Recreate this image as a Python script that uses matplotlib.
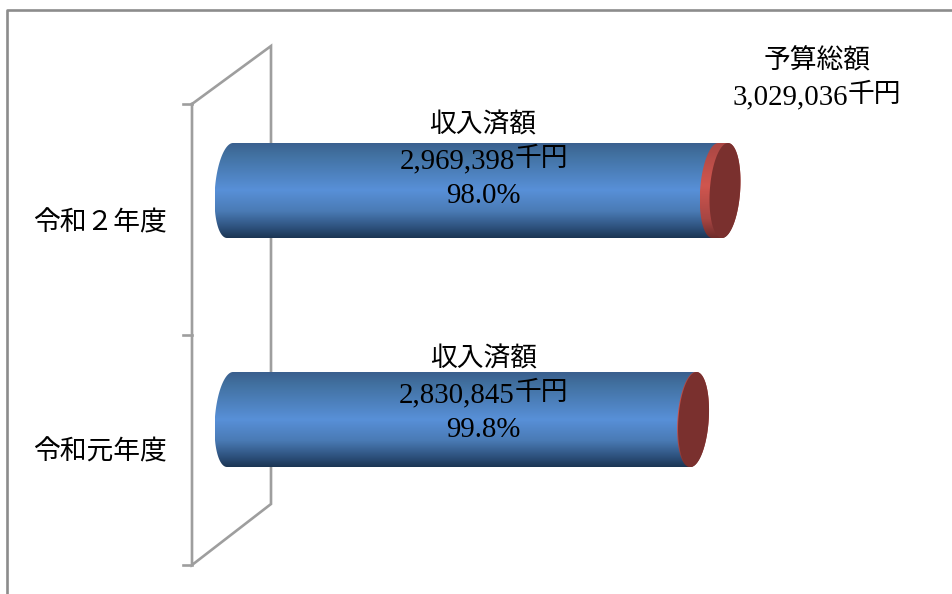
import numpy as np
import matplotlib
matplotlib.use("Agg")
import matplotlib.pyplot as plt
from matplotlib.colors import LinearSegmentedColormap
from matplotlib.patches import Polygon

plt.rcParams['font.family'] = ['Liberation Serif', 'Noto Sans CJK JP', 'DejaVu Sans']

categories = ['令和元年度', '令和２年度']
received = [2830845, 2969398]
budget = [2836518, 3029036]
percent = ['99.8%', '98.0%']
label_name = '収入済額'
unit = '千円'
total_title = '予算総額'
total_value = '3,029,036'

W, H = 953, 594
fig = plt.figure(figsize=(W / 100, H / 100), dpi=100)
ax = fig.add_axes([0, 0, 1, 1])

X0 = 230.0
K = 495.0 / 3029036
Y0, DY = 419.5, 229.0

x_of = lambda px: (np.asarray(px, float) - X0) / K
y_of = lambda py: (Y0 - np.asarray(py, float)) / DY
xlim = (float(x_of(0)), float(x_of(W)))
ylim = (float(y_of(H)), float(y_of(0)))

blue = LinearSegmentedColormap.from_list('b', [(0, '#3A5F8E'), (0.12, '#41709F'), (0.5, '#5890D8'),
                                               (0.72, '#4A7BB5'), (0.9, '#2C4F7A'), (1, '#1B3553')])
red = LinearSegmentedColormap.from_list('r', [(0, '#A84643'), (0.45, '#D0564F'), (0.8, '#A84643'), (1, '#6E2C2A')])
FACE = '#7A302E'
LINE = '#9E9E9E'

A, S, B = 15.2 / K, 3.0 / K, 47.5 / DY
t = np.linspace(0, 2 * np.pi, 181)


def end_cap(xc, yc, tt):
    return np.column_stack([xc + A * np.cos(tt) + S * np.sin(tt), yc + B * np.sin(tt)])


def gradient_patch(poly, cmap, yc, z):
    patch = Polygon(poly, closed=True, transform=ax.transData, fc='none', ec='none')
    ax.add_patch(patch)
    grad = np.linspace(0, 1, 256).reshape(-1, 1)
    x1, x2 = poly[:, 0].min(), poly[:, 0].max()
    im = ax.imshow(grad, cmap=cmap, aspect='auto', extent=(x1, x2, yc - B, yc + B),
                   origin='upper', zorder=z, interpolation='bilinear')
    im.set_clip_path(patch)


# wall and frame
wx = x_of([192, 271, 271, 192, 192])
wy = y_of([104, 46, 504, 565, 104])
ax.plot(wx, wy, color=LINE, lw=1.9, solid_joinstyle='miter', zorder=1)
for py in (104, 335, 565):
    ax.plot(x_of([183, 192]), y_of([py, py]), color=LINE, lw=1.9, zorder=1)
ax.plot(x_of([7, 7, W]), y_of([H, 10, 10]), color='#8C8C8C', lw=1.9, zorder=1)

# cylinders
for i, (rec, bud) in enumerate(zip(received, budget)):
    left = end_cap(0.0, i, np.linspace(np.pi / 2, 3 * np.pi / 2, 91))
    right = end_cap(rec, i, np.linspace(3 * np.pi / 2, 5 * np.pi / 2, 91))
    gradient_patch(np.vstack([left, right]), blue, i, 2)
    rim_l = end_cap(rec, i, np.linspace(np.pi / 2, 3 * np.pi / 2, 91))
    rim_r = end_cap(bud, i, np.linspace(3 * np.pi / 2, 5 * np.pi / 2, 91))
    gradient_patch(np.vstack([rim_l, rim_r]), red, i, 3)
    ax.add_patch(Polygon(end_cap(bud, i, t), closed=True, fc=FACE, ec='none', zorder=4))

# texts
FS_K = 19.3
FS_N = 20.8


def put(px, py, s):
    ax.text(float(x_of(px)), float(y_of(py)), s, ha='center', va='center',
            fontsize=FS_K, color='black', zorder=6)


def put_pct(px, base, s):
    ax.text(float(x_of(px)), float(y_of(base)), s, ha='center', va='baseline',
            fontsize=FS_N, color='black', zorder=6)


def put_amount(joint, base, s):
    ax.text(float(x_of(joint)), float(y_of(base)), s, ha='right', va='baseline',
            fontsize=FS_N, color='black', zorder=6)
    ax.text(float(x_of(joint)), float(y_of(base - 2)), unit, ha='left', va='baseline',
            fontsize=FS_K, color='black', zorder=6)


put(100, 452.5, categories[0])
put(100, 223.5, categories[1])
put(484, 359.5, label_name)
put_amount(515, 402, f'{received[0]:,}')
put_pct(483, 437, percent[0])
put(483, 125.5, label_name)
put_amount(515, 168, f'{received[1]:,}')
put_pct(483, 203, percent[1])
put(817, 61.5, total_title)
put_amount(848, 104, total_value)

ax.set_xlim(xlim)
ax.set_ylim(ylim)
ax.axis('off')
fig.savefig('out.png', dpi=100, facecolor='white')
